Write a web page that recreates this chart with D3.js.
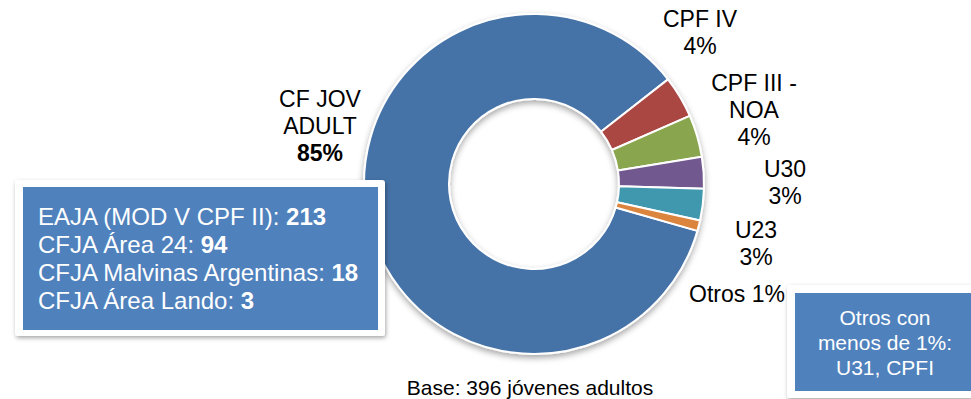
<!DOCTYPE html>
<html>
<head>
<meta charset="utf-8">
<script src="https://cdn.jsdelivr.net/npm/d3@7"></script>
<style>
  html, body { margin: 0; padding: 0; background: #fff; }
  svg { display: block; font-family: "Liberation Sans", Arial, sans-serif; }
</style>
</head>
<body>
<svg id="chart" width="971" height="399"></svg>
<script>
// Participation by training centre (percent of 396 young adults)
const categories = ["CF JOV ADULT", "CPF IV", "CPF III - NOA", "U30", "U23", "Otros"];
const percents   = [85, 4, 4, 3, 3, 1];
const labelLines = [["CF JOV", "ADULT"], ["CPF IV"], ["CPF III -", "NOA"], ["U30"], ["U23"], []];
const labelInline = [false, false, false, false, false, true];

// Breakdown of the largest group
const subCentres = ["EAJA (MOD V CPF II): ", "CFJA Área 24: ", "CFJA Malvinas Argentinas: ", "CFJA Área Lando: "];
const subCounts  = [213, 94, 18, 3];

const otherNote = ["Otros con", "menos de 1%:", "U31, CPFI"];
const baseNote  = "Base: 396 jóvenes adultos";

const colors = ["#4572A7", "#AA4643", "#89A54E", "#71588F", "#4198AF", "#DB843D"];

const svg = d3.select("#chart");
const defs = svg.append("defs");

const shadow = defs.append("filter").attr("id", "shadow")
  .attr("x", "-20%").attr("y", "-20%").attr("width", "140%").attr("height", "140%");
shadow.append("feDropShadow").attr("dx", 0).attr("dy", 3).attr("stdDeviation", 3)
  .attr("flood-color", "#000").attr("flood-opacity", 0.35);

const boxShadow = defs.append("filter").attr("id", "boxShadow")
  .attr("x", "-20%").attr("y", "-20%").attr("width", "140%").attr("height", "140%");
boxShadow.append("feDropShadow").attr("dx", 1).attr("dy", 2).attr("stdDeviation", 2)
  .attr("flood-color", "#000").attr("flood-opacity", 0.35);

// Donut
const cx = 534, cy = 184, rOuter = 170, rInner = 85;
const start = 106 * Math.PI / 180;
const pie = d3.pie().sort(null).value(d => d)
  .startAngle(start).endAngle(start + 2 * Math.PI);
const arc = d3.arc().innerRadius(rInner).outerRadius(rOuter);

const g = svg.append("g").attr("transform", `translate(${cx},${cy})`);
g.append("g").attr("filter", "url(#shadow)")
  .selectAll("path").data(pie(percents)).join("path")
  .attr("d", arc)
  .attr("fill", (d, i) => colors[i])
  .attr("stroke", "#fff").attr("stroke-width", 2)
  .attr("stroke-linejoin", "round");

// Slice labels (anchor = centre x, first baseline)
const labelPos = [
  [320, 107], [700, 27], [754, 91], [785, 177], [756, 238], [737, 302]
];
const lineH = 27;
const labels = svg.append("g").attr("font-size", 23).attr("fill", "#000").attr("text-anchor", "middle");
categories.forEach((c, i) => {
  const [x, y] = labelPos[i];
  const t = labels.append("text").attr("x", x).attr("y", y);
  if (labelInline[i]) {
    t.text(`${c} ${percents[i]}%`);
    return;
  }
  labelLines[i].forEach((line, k) => {
    t.append("tspan").attr("x", x).attr("y", y + k * lineH).text(line);
  });
  t.append("tspan").attr("x", x).attr("y", y + labelLines[i].length * lineH)
    .attr("font-weight", i === 0 ? "bold" : "normal")
    .text(`${percents[i]}%`);
});

// Breakdown box
const box1 = svg.append("g");
box1.append("rect").attr("x", 15).attr("y", 180).attr("width", 370).attr("height", 156)
  .attr("rx", 3).attr("fill", "#fff").attr("filter", "url(#boxShadow)");
box1.append("rect").attr("x", 23).attr("y", 187).attr("width", 355).attr("height", 143)
  .attr("fill", "#4F81BD");
const bt = box1.append("g").attr("font-size", 24).attr("fill", "#fff");
subCentres.forEach((name, i) => {
  const t = bt.append("text").attr("x", 38).attr("y", 225 + i * 28.1);
  t.append("tspan").text(name);
  t.append("tspan").attr("font-weight", "bold").text(subCounts[i]);
});

// Note box for the small centres
const box2 = svg.append("g");
box2.append("rect").attr("x", 787).attr("y", 285).attr("width", 200).attr("height", 113)
  .attr("rx", 3).attr("fill", "#fff").attr("filter", "url(#boxShadow)");
box2.append("rect").attr("x", 795).attr("y", 293).attr("width", 190).attr("height", 98)
  .attr("fill", "#4F81BD");
const nt = box2.append("text").attr("font-size", 21).attr("fill", "#fff").attr("text-anchor", "middle");
otherNote.forEach((line, k) => {
  nt.append("tspan").attr("x", 885).attr("y", 325 + k * 25).text(line);
});

// Base note
svg.append("text").attr("x", 530).attr("y", 395).attr("text-anchor", "middle")
  .attr("font-size", 21).attr("fill", "#000").text(baseNote);
</script>
</body>
</html>
